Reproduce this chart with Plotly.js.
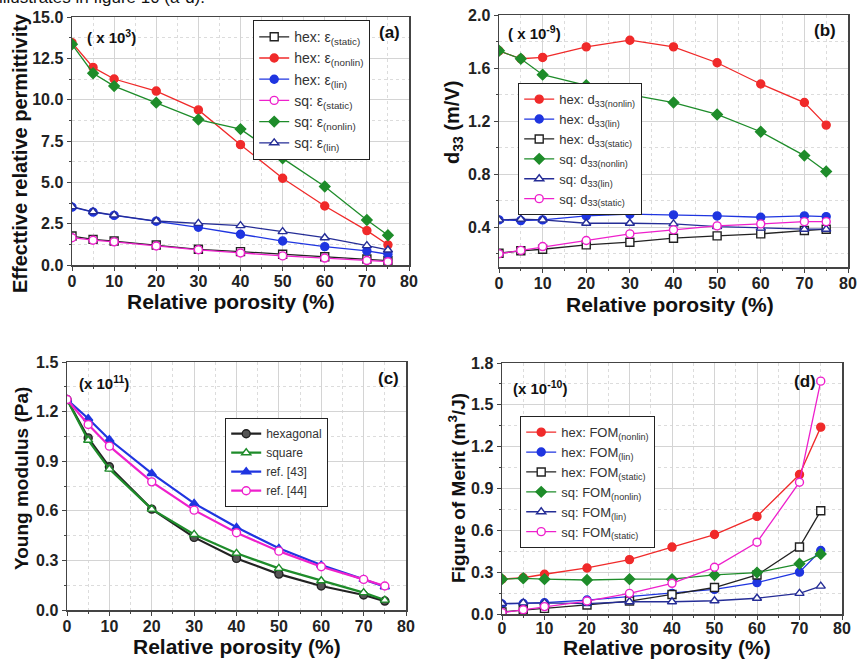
<!DOCTYPE html>
<html><head><meta charset="utf-8">
<script src="https://cdn.plot.ly/plotly-3.0.1.min.js"></script>
<style>html,body{margin:0;padding:0;background:#fff}#chart{width:858px;height:659px}</style>
</head><body><div id="chart"></div>
<script>
const porosity = [0,5,10,20,30,40,50,60,70,75];

// (a) Effective relative permittivity (x 10^3)
const aHexStatic = [1.75,1.55,1.45,1.21,0.95,0.81,0.65,0.50,0.36,0.26];
const aHexNonlin = [13.45,11.95,11.25,10.52,9.38,7.28,5.25,3.57,2.08,1.22];
const aHexLin    = [3.50,3.20,3.00,2.65,2.28,1.86,1.45,1.11,0.85,0.65];
const aSqStatic  = [1.65,1.50,1.40,1.15,0.92,0.73,0.55,0.42,0.27,0.20];
const aSqNonlin  = [13.35,11.60,10.82,9.82,8.80,8.22,6.45,4.75,2.72,1.80];
const aSqLin     = [3.53,3.22,3.02,2.66,2.52,2.38,2.02,1.65,1.17,0.91];

// (b) d33 (x 10^-9 m/V)
const bHexNonlin = [1.73,1.67,1.68,1.76,1.81,1.76,1.64,1.48,1.34,1.17];
const bHexLin    = [0.455,0.45,0.455,0.485,0.498,0.493,0.485,0.475,0.485,0.48];
const bHexStatic = [0.204,0.222,0.234,0.267,0.287,0.317,0.335,0.35,0.375,0.385];
const bSqNonlin  = [1.73,1.67,1.55,1.47,1.40,1.34,1.25,1.12,0.94,0.82];
const bSqLin     = [0.455,0.46,0.455,0.43,0.43,0.425,0.405,0.393,0.385,0.385];
const bSqStatic  = [0.20,0.225,0.254,0.30,0.35,0.38,0.41,0.425,0.442,0.442];

// (c) Young modulus (x 10^11 Pa)
const cHex   = [1.273,1.041,0.866,0.61,0.439,0.312,0.217,0.145,0.091,0.054];
const cSq    = [1.273,1.027,0.852,0.61,0.457,0.343,0.252,0.177,0.105,0.06];
const cRef43 = [1.273,1.158,1.031,0.826,0.645,0.50,0.373,0.272,0.185,0.141];
const cRef44 = [1.273,1.122,0.991,0.775,0.604,0.467,0.356,0.262,0.185,0.145];

// (d) Figure of merit (x 10^-10 m^3/J)
const dHexNonlin = [0.25,0.26,0.285,0.33,0.39,0.48,0.57,0.70,1.00,1.34];
const dHexLin    = [0.072,0.075,0.081,0.10,0.124,0.148,0.177,0.225,0.30,0.455];
const dHexStatic = [0.015,0.03,0.04,0.065,0.093,0.14,0.19,0.28,0.48,0.74];
const dSqNonlin  = [0.25,0.256,0.25,0.244,0.25,0.25,0.28,0.297,0.36,0.43];
const dSqLin     = [0.075,0.08,0.08,0.075,0.088,0.088,0.095,0.113,0.148,0.20];
const dSqStatic  = [0.01,0.03,0.053,0.093,0.148,0.22,0.335,0.515,0.945,1.67];

const xTitle = 'Relative porosity (%)';
const yTitles = ['Effecttive relative permittivity','d<sub>33</sub> (m/V)','Young modulus (Pa)','Figure of Merit (m<sup>3</sup>/J)'];

const RED='#f02a2a', GREEN='#1e8c2a', BLUE='#1f35e0', NAVY='#252d96', MAG='#ee20cc', BLK='#222222';
const FONT='Liberation Sans, Arial, sans-serif';
const W='#ffffff';

function tr(xa, ya, y, name, color, symbol, fill, legend, lw, ms){
  return {x: porosity, y: y, name: name, type:'scatter', mode:'lines+markers',
    xaxis: xa, yaxis: ya, legend: legend,
    line:{color:color, width: lw||1.3},
    marker:{symbol:symbol, size: ms||8, color: fill, line:{color: color, width:1.4}}};
}
const data = [
  // a
  tr('x','y',aHexStatic,'hex: ε<sub>(static)</sub>',BLK,'square',W,'legend'),
  tr('x','y',aHexNonlin,'hex: ε<sub>(nonlin)</sub>',RED,'circle',RED,'legend'),
  tr('x','y',aHexLin,'hex: ε<sub>(lin)</sub>',BLUE,'circle',BLUE,'legend'),
  tr('x','y',aSqStatic,'sq: ε<sub>(static)</sub>',MAG,'circle',W,'legend'),
  tr('x','y',aSqNonlin,'sq: ε<sub>(nonlin)</sub>',GREEN,'diamond',GREEN,'legend'),
  tr('x','y',aSqLin,'sq: ε<sub>(lin)</sub>',NAVY,'triangle-up',W,'legend'),
  // b
  tr('x2','y2',bHexNonlin,'hex: d<sub>33(nonlin)</sub>',RED,'circle',RED,'legend2'),
  tr('x2','y2',bHexLin,'hex: d<sub>33(lin)</sub>',BLUE,'circle',BLUE,'legend2'),
  tr('x2','y2',bHexStatic,'hex: d<sub>33(static)</sub>',BLK,'square',W,'legend2'),
  tr('x2','y2',bSqNonlin,'sq: d<sub>33(nonlin)</sub>',GREEN,'diamond',GREEN,'legend2'),
  tr('x2','y2',bSqLin,'sq: d<sub>33(lin)</sub>',NAVY,'triangle-up',W,'legend2'),
  tr('x2','y2',bSqStatic,'sq: d<sub>33(static)</sub>',MAG,'circle',W,'legend2'),
  // c
  tr('x3','y3',cHex,'hexagonal',BLK,'circle','#555555','legend3',2.2,8),
  tr('x3','y3',cSq,'square',GREEN,'triangle-up',W,'legend3',2.2,8),
  tr('x3','y3',cRef43,'ref. [43]',BLUE,'triangle-up',BLUE,'legend3',2.2,8),
  tr('x3','y3',cRef44,'ref. [44]',MAG,'circle',W,'legend3',2.2,8),
  // d
  tr('x4','y4',dHexNonlin,'hex: FOM<sub>(nonlin)</sub>',RED,'circle',RED,'legend4'),
  tr('x4','y4',dHexLin,'hex: FOM<sub>(lin)</sub>',BLUE,'circle',BLUE,'legend4'),
  tr('x4','y4',dHexStatic,'hex: FOM<sub>(static)</sub>',BLK,'square',W,'legend4'),
  tr('x4','y4',dSqNonlin,'sq: FOM<sub>(nonlin)</sub>',GREEN,'diamond',GREEN,'legend4'),
  tr('x4','y4',dSqLin,'sq: FOM<sub>(lin)</sub>',NAVY,'triangle-up',W,'legend4'),
  tr('x4','y4',dSqStatic,'sq: FOM<sub>(static)</sub>',MAG,'circle',W,'legend4')
];

const Wd=858, Ht=659;
const px = (a,b)=>[a/Wd,b/Wd];
const py = (top,bot)=>[1-bot/Ht,1-top/Ht];

function xax(dom, anchor, lso){
  return {domain: dom, anchor: anchor, range:[0,80], dtick:10, tick0:0,
    showline:true, linecolor:'#444', linewidth:1.5, mirror:true,
    ticks:'outside', ticklen:4, tickcolor:'#444', showgrid:true, gridcolor:'#d4d4d4', gridwidth:1,
    minor:{dtick:5, ticks:'outside', ticklen:2, tickcolor:'#444', showgrid:true, gridcolor:'#dcdcdc', griddash:'dot'},
    zeroline:false, tickfont:{family:FONT, size:16, color:'#222', weight:'bold'}, ticklabelstandoff:lso,
    automargin:false};
}
function yax(dom, anchor, range, dtick, minor){
  return {domain: dom, anchor: anchor, range: range, dtick: dtick, tick0:0, tickformat: '.1f',
    showline:true, linecolor:'#444', linewidth:1.5, mirror:true,
    ticks:'outside', ticklen:4, tickcolor:'#444', showgrid:true, gridcolor:'#d4d4d4', gridwidth:1,
    minor:{dtick:minor, ticks:'outside', ticklen:2, tickcolor:'#444', showgrid:true, gridcolor:'#dcdcdc', griddash:'dot'},
    zeroline:false, tickfont:{family:FONT, size:16, color:'#222', weight:'bold'},
    automargin:false};
}
function leg(x0,y0,fs){
  return {x:x0/Wd, y:1-y0/Ht, xanchor:'left', yanchor:'top', bgcolor:'#ffffff', bordercolor:'#222', borderwidth:1.2,
    font:{family:FONT, size:fs, color:'#333'}, tracegroupgap:0, itemwidth:30};
}
function ann(text, x, y, size){
  return {text:text, x:x/Wd, y:1-y/Ht, xref:'paper', yref:'paper', showarrow:false, xanchor:'left', yanchor:'middle',
    font:{family:FONT, size:size||15, color:'#111', weight:'bold'}};
}
function ttl(text, x, y, size, angle){
  return {text:text, x:x/Wd, y:1-y/Ht, xref:'paper', yref:'paper', showarrow:false, xanchor:'center', yanchor:'middle',
    textangle: angle||0, font:{family:FONT, size:size, color:'#111', weight:'bold'}};
}
const layout = {
  width:Wd, height:Ht, margin:{l:0,r:0,t:0,b:0}, paper_bgcolor:'#fff', plot_bgcolor:'#fff', showlegend:true,
  xaxis: xax(px(72,409),'y',-3),
  yaxis: yax(py(17,265),'x',[0,15],2.5,1.25),
  xaxis2: xax(px(499,848),'y2',-3),
  yaxis2: yax(py(15,267),'x2',[0.1,2.0],0.4,0.2),
  xaxis3: xax(px(67,406),'y3',-3),
  yaxis3: yax(py(362,610),'x3',[0,1.5],0.3,0.15),
  xaxis4: xax(px(502,842),'y4',-5),
  yaxis4: yax(py(363,614),'x4',[0,1.8],0.3,0.15),
  legend: leg(253,20,14),
  legend2: leg(518,83,13),
  legend3: leg(225,418,12),
  legend4: leg(520,416,13),
  annotations:[
    ttl(xTitle, 231, 302, 21), ttl(xTitle, 670, 305, 21), ttl(xTitle, 237, 646, 21), ttl(xTitle, 667, 647, 21),
    ttl(yTitles[0], 20, 153, 20, -90), ttl(yTitles[1], 453, 123, 20, -90),
    ttl(yTitles[2], 21, 479, 19, -90), ttl(yTitles[3], 457, 488, 19, -90),
    ann('( x 10<sup>3</sup>)', 85, 36, 15),
    ann('(a)', 377, 33, 17),
    ann('( x 10<sup>-9</sup>)', 506, 33, 15),
    ann('(b)', 812, 31, 17),
    ann('(x 10<sup>11</sup>)', 77, 382, 15),
    ann('(c)', 376, 378, 17),
    ann('(x 10<sup>-10</sup>)', 511, 387, 15),
    ann('(d)', 792, 381, 17),
    {text:'illustrates in figure 10 (a-d).', x:-3/Wd, y:1-9/Ht, xref:'paper', yref:'paper', showarrow:false,
     xanchor:'left', yanchor:'bottom', font:{family:FONT, size:17, color:'#111'}}
  ]
};
Plotly.newPlot('chart', data, layout, {staticPlot:true});
</script></body></html>
